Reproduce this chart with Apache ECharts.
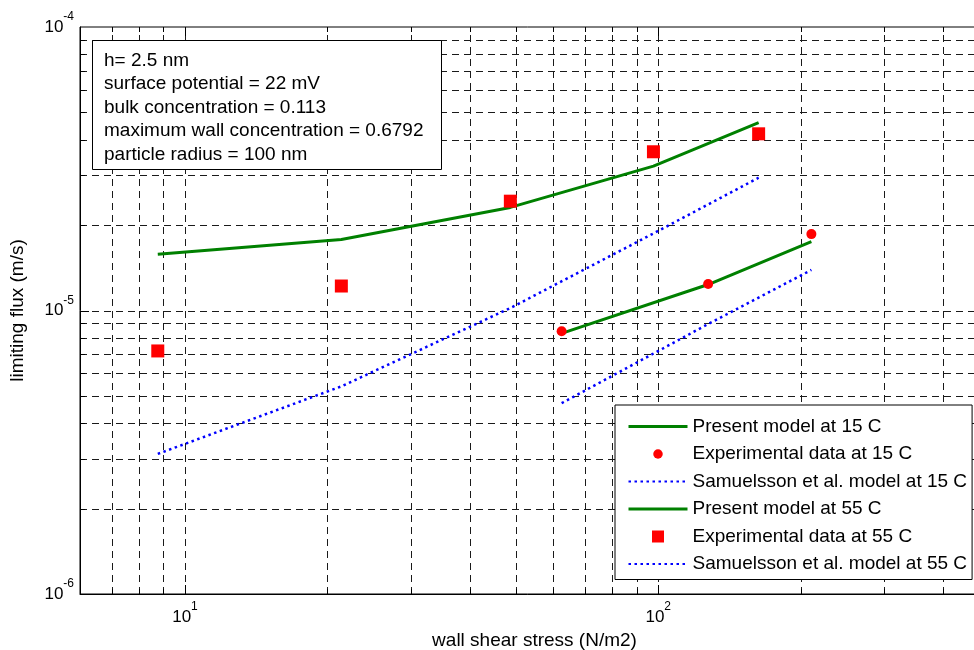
<!DOCTYPE html>
<html><head><meta charset="utf-8">
<script src="https://cdn.jsdelivr.net/npm/echarts@6/dist/echarts.min.js"></script>
<style>html,body{margin:0;padding:0;background:#fff}#c{width:974px;height:650px}</style>
</head><body><div id="c"></div>
<script>
// ---- data ----
const x15 = [62.5, 127.5, 210.7];
const present15 = [8.3e-6, 1.235e-5, 1.75e-5];
const exp15 = [8.45e-6, 1.24e-5, 1.86e-5];
const sam15 = [4.71e-6, 8.96e-6, 1.39e-5];

const x55 = [8.76, 21.4, 48.7, 97.7, 163];
const present55 = [1.58e-5, 1.78e-5, 2.31e-5, 3.23e-5, 4.6e-5];
const exp55 = [7.2e-6, 1.22e-5, 2.43e-5, 3.63e-5, 4.2e-5];
const sam55 = [3.12e-6, 5.4e-6, 1.02e-5, 1.87e-5, 2.94e-5];

const seriesNames = [
  'Present model at 15 C', 'Experimental data at 15 C', 'Samuelsson et al. model at 15 C',
  'Present model at 55 C', 'Experimental data at 55 C', 'Samuelsson et al. model at 55 C'
];
const infoLines = [
  'h= 2.5 nm',
  'surface potential = 22 mV',
  'bulk concentration = 0.113',
  'maximum wall concentration = 0.6792',
  'particle radius = 100 nm'
];
const xTitle = 'wall shear stress (N/m2)';
const yTitle = 'limiting flux (m/s)';
const X_MIN = 6, X_MAX = 500, Y_MIN = 1e-6, Y_MAX = 1e-4;
const xGridValues = [7, 8, 9, 10, 20, 30, 40, 50, 60, 70, 80, 90, 100, 200, 300, 400];
const yGridValues = [2e-6, 3e-6, 4e-6, 5e-6, 6e-6, 7e-6, 8e-6, 9e-6, 1e-5,
  2e-5, 3e-5, 4e-5, 5e-5, 6e-5, 7e-5, 8e-5, 9e-5];

// ---- helpers ----
const pair = (xs, ys) => xs.map((x, i) => [x, ys[i]]);
function pow10Exp(v) {
  const e = Math.round(Math.log10(v));
  return Math.abs(Math.log10(v) - e) < 1e-6 ? e : null;
}
function labelFmt(v) {
  const e = pow10Exp(v);
  if (e === null) return '';
  return '{b|10}{s|' + e + '}';
}
const crisp = v => Math.round(v) + 0.5;
const GRID_STYLE = { stroke: '#1a1a1a', lineWidth: 1, lineDash: [7, 5] };
const TICK_STYLE = { stroke: '#000', lineWidth: 1 };

function xGridItem(params, api) {
  const v = api.value(0);
  const p0 = api.coord([v, Y_MIN]);
  const p1 = api.coord([v, Y_MAX]);
  const x = crisp(p0[0]);
  const tl = pow10Exp(v) !== null ? 9 : 5;
  return { type: 'group', children: [
    { type: 'line', shape: { x1: x, y1: p0[1], x2: x, y2: p1[1] }, style: GRID_STYLE },
    { type: 'line', shape: { x1: x, y1: p0[1], x2: x, y2: p0[1] - tl }, style: TICK_STYLE },
    { type: 'line', shape: { x1: x, y1: p1[1], x2: x, y2: p1[1] + tl }, style: TICK_STYLE }
  ]};
}
function yGridItem(params, api) {
  const v = api.value(1);
  const p0 = api.coord([X_MIN, v]);
  const p1 = api.coord([X_MAX, v]);
  const y = crisp(p0[1]);
  const tl = pow10Exp(v) !== null ? 9 : 5;
  return { type: 'group', children: [
    { type: 'line', shape: { x1: p0[0], y1: y, x2: p1[0], y2: y }, style: GRID_STYLE },
    { type: 'line', shape: { x1: p0[0], y1: y, x2: p0[0] + tl, y2: y }, style: TICK_STYLE },
    { type: 'line', shape: { x1: p1[0], y1: y, x2: p1[0] - tl, y2: y }, style: TICK_STYLE }
  ]};
}

const FONT = 'Liberation Sans, Arial, sans-serif';
const richLabel = {
  b: { fontSize: 17, color: '#000', fontFamily: FONT },
  s: { fontSize: 12, color: '#000', fontFamily: FONT, padding: [0, 0, 20, 0] }
};
const GREEN = '#008000', RED = '#ff0000', BLUE = '#0000ff';
const dotted = { color: BLUE, width: 2.5, type: [2.5, 3.5], cap: 'butt' };
const HIDE_SYMBOL = { opacity: 0 };
// circle of ~9.5px inside a 12px icon box (the moveTo corners set the box)
const SMALL_CIRCLE_ICON = 'path://M0,0M12,12M1.25,6a4.75,4.75 0 1,0 9.5,0a4.75,4.75 0 1,0 -9.5,0z';

const chart = echarts.init(document.getElementById('c'), null, { renderer: 'canvas' });
chart.setOption({
  animation: false,
  backgroundColor: '#fff',
  textStyle: { fontFamily: FONT },
  grid: { left: 80, right: -15, top: 27, bottom: 56, outerBoundsMode: 'none', containLabel: false,
    show: true, borderColor: '#000', borderWidth: 1, backgroundColor: '#fff' },
  title: {
    text: infoLines.join('\n'),
    left: 92, top: 40,
    padding: [9, 18, 3, 12],
    borderColor: '#000', borderWidth: 1, backgroundColor: '#fff',
    textStyle: { fontSize: 19, fontWeight: 'normal', lineHeight: 23.5, color: '#000', fontFamily: FONT }
  },
  legend: {
    data: [
      { name: seriesNames[0], itemStyle: HIDE_SYMBOL, lineStyle: { width: 3 } },
      { name: seriesNames[1], icon: SMALL_CIRCLE_ICON },
      { name: seriesNames[2], itemStyle: HIDE_SYMBOL },
      { name: seriesNames[3], itemStyle: HIDE_SYMBOL, lineStyle: { width: 3 } },
      { name: seriesNames[4], icon: 'path://M0,0h10v10h-10z' },
      { name: seriesNames[5], itemStyle: HIDE_SYMBOL }
    ],
    orient: 'vertical',
    left: 615, top: 405,
    padding: [12, 5, 6, 12],
    itemWidth: 59, itemHeight: 12, itemGap: 8.5,
    symbolKeepAspect: true,
    borderColor: '#000', borderWidth: 1, backgroundColor: '#fff',
    textStyle: { fontSize: 19, lineHeight: 19, color: '#000', fontFamily: FONT },
    selectedMode: false
  },
  xAxis: {
    type: 'log', logBase: 10, min: X_MIN, max: X_MAX,
    name: xTitle, nameLocation: 'middle', nameGap: 37,
    nameTextStyle: { fontSize: 19, color: '#000', fontFamily: FONT },
    axisLine: { show: true, lineStyle: { color: '#000', width: 1 } },
    axisTick: { show: false },
    splitLine: { show: false },
    minorTick: { show: false }, minorSplitLine: { show: false },
    axisLabel: { formatter: labelFmt, rich: richLabel, margin: 7, showMinLabel: false, showMaxLabel: false, hideOverlap: false }
  },
  yAxis: {
    type: 'log', logBase: 10, min: Y_MIN, max: Y_MAX,
    name: yTitle, nameLocation: 'middle', nameGap: 53,
    nameTextStyle: { fontSize: 19, color: '#000', fontFamily: FONT },
    axisLine: { show: true, lineStyle: { color: '#000', width: 1 } },
    axisTick: { show: false },
    splitLine: { show: false },
    minorTick: { show: false }, minorSplitLine: { show: false },
    axisLabel: { formatter: labelFmt, rich: richLabel, margin: 6, hideOverlap: false }
  },
  series: [
    { type: 'custom', name: 'xgrid', silent: true, z: 1, clip: false, renderItem: xGridItem,
      data: xGridValues.map(v => [v, Y_MIN]), encode: { x: 0, y: 1 } },
    { type: 'custom', name: 'ygrid', silent: true, z: 1, clip: false, renderItem: yGridItem,
      data: yGridValues.map(v => [X_MIN, v]), encode: { x: 0, y: 1 } },
    { type: 'line', name: seriesNames[0], data: pair(x15, present15), symbol: 'none', showSymbol: false,
      lineStyle: { color: GREEN, width: 3 }, itemStyle: { color: GREEN }, z: 3 },
    { type: 'scatter', name: seriesNames[1], data: pair(x15, exp15), symbol: 'circle', symbolSize: 10,
      itemStyle: { color: RED, opacity: 1 }, z: 4 },
    { type: 'line', name: seriesNames[2], data: pair(x15, sam15), symbol: 'none', showSymbol: false,
      lineStyle: dotted, itemStyle: { color: BLUE }, z: 3 },
    { type: 'line', name: seriesNames[3], data: pair(x55, present55), symbol: 'none', showSymbol: false,
      lineStyle: { color: GREEN, width: 3 }, itemStyle: { color: GREEN }, z: 3 },
    { type: 'scatter', name: seriesNames[4], data: pair(x55, exp55), symbol: 'rect', symbolSize: 13,
      itemStyle: { color: RED, opacity: 1 }, z: 4 },
    { type: 'line', name: seriesNames[5], data: pair(x55, sam55), symbol: 'none', showSymbol: false,
      lineStyle: dotted, itemStyle: { color: BLUE }, z: 3 }
  ]
});
</script></body></html>
